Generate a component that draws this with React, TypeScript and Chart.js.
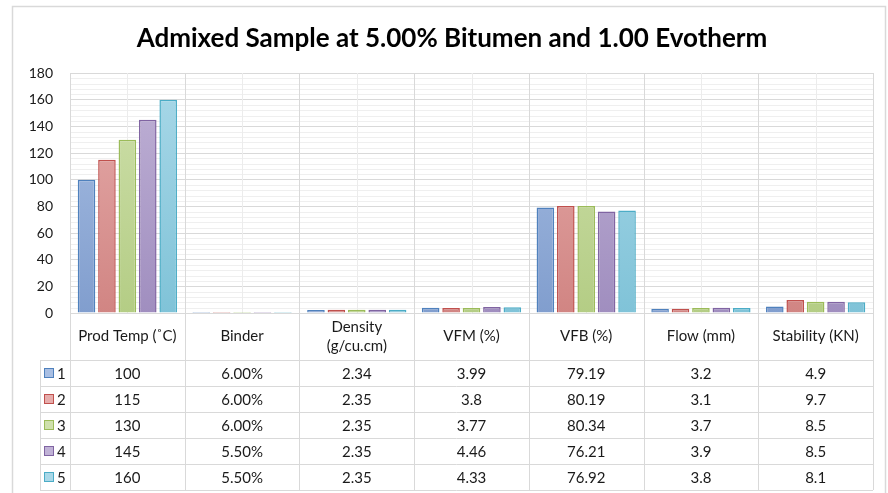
import React, { useEffect, useRef } from 'react';
import { Chart, registerables } from 'chart.js';

Chart.register(...registerables);

const titleText = 'Admixed Sample at 5.00% Bitumen and 1.00 Evotherm';
const categoryHeaders: string[][] = [
  ['Prod Temp (˚C)'],
  ['Binder'],
  ['Density', '(g/cu.cm)'],
  ['VFM (%)'],
  ['VFB (%)'],
  ['Flow (mm)'],
  ['Stability (KN)'],
];
const seriesNames = ['1', '2', '3', '4', '5'];
const series1 = [100, 0.06, 2.34, 3.99, 79.19, 3.2, 4.9];
const series2 = [115, 0.06, 2.35, 3.8, 80.19, 3.1, 9.7];
const series3 = [130, 0.06, 2.35, 3.77, 80.34, 3.7, 8.5];
const series4 = [145, 0.055, 2.35, 4.46, 76.21, 3.9, 8.5];
const series5 = [160, 0.055, 2.35, 4.33, 76.92, 3.8, 8.1];
const allSeries = [series1, series2, series3, series4, series5];
const yMax = 180;
const yStep = 20;
const yMinorStep = 4;

const fillTop = ['#A9BFE3', '#E6ADAC', '#CFE0AC', '#C0B2D6', '#A9D8E8'];
const fillBottom = ['#819ECE', '#D18583', '#B4CD85', '#A08EBF', '#80C3D8'];
const borderColors = ['#4F81BD', '#C0504D', '#9BBB59', '#8064A2', '#4BACC6'];

const FONT = 'Lato, "Open Sans", sans-serif';
const TEXT = '#1a1a1a';
const LINE = '#d9d9d9';

function fmt(ci: number, v: number): string {
  if (ci === 1) return (v * 100).toFixed(2) + '%';
  return String(v);
}

const extras = {
  id: 'extras',
  beforeDraw(chart: any) {
    const { ctx, width, height } = chart;
    ctx.save();
    ctx.fillStyle = '#ffffff';
    ctx.fillRect(0, 0, width, height);
    ctx.strokeStyle = LINE;
    ctx.lineWidth = 1.5;
    ctx.strokeRect(12.5, 6.5, 873, 520);
    ctx.restore();
  },
  beforeDatasetsDraw(chart: any) {
    const { ctx, chartArea } = chart;
    const y = chart.scales.y;
    const x = chart.scales.x;
    ctx.save();
    ctx.lineWidth = 1;
    ctx.strokeStyle = '#efefef';
    for (let v = yMinorStep; v < yMax; v += yMinorStep) {
      if (v % yStep === 0) continue;
      const py = Math.round(y.getPixelForValue(v)) + 0.5;
      ctx.beginPath();
      ctx.moveTo(chartArea.left, py);
      ctx.lineTo(chartArea.right, py);
      ctx.stroke();
    }
    const n = categoryHeaders.length;
    ctx.strokeStyle = '#ececec';
    for (let i = 0; i < n; i++) {
      const px = Math.round(x.getPixelForValue(i)) + 0.5;
      ctx.beginPath();
      ctx.moveTo(px, chartArea.top);
      ctx.lineTo(px, chartArea.bottom);
      ctx.stroke();
    }
    ctx.restore();
  },
  afterDraw(chart: any) {
    const { ctx, chartArea } = chart;
    const x = chart.scales.x;
    const n = categoryHeaders.length;
    const w = (chartArea.right - chartArea.left) / n;
    const tableTop = chartArea.bottom;
    const headerH = 47;
    const rowH = 26;
    const legendLeft = 40;
    const rowsTop = tableTop + headerH;
    const tableBottom = rowsTop + rowH * seriesNames.length;
    ctx.save();
    // title
    ctx.fillStyle = '#000000';
    ctx.font = 'bold 26px ' + FONT;
    ctx.textAlign = 'center';
    ctx.textBaseline = 'middle';
    ctx.fillText(titleText, 452, 39);

    // table lines
    ctx.strokeStyle = LINE;
    ctx.lineWidth = 1;
    for (let i = 0; i <= n; i++) {
      const bx = Math.round(chartArea.left + i * w) + 0.5;
      ctx.beginPath();
      ctx.moveTo(bx, chartArea.top);
      ctx.lineTo(bx, tableBottom);
      ctx.stroke();
    }
    ctx.beginPath();
    ctx.moveTo(legendLeft + 0.5, rowsTop);
    ctx.lineTo(legendLeft + 0.5, tableBottom);
    ctx.stroke();
    for (let r = 0; r <= seriesNames.length; r++) {
      const hy = Math.round(rowsTop + r * rowH) + 0.5;
      ctx.beginPath();
      ctx.moveTo(legendLeft, hy);
      ctx.lineTo(chartArea.right, hy);
      ctx.stroke();
    }

    // header text
    ctx.fillStyle = TEXT;
    ctx.font = '15px ' + FONT;
    ctx.textAlign = 'center';
    ctx.textBaseline = 'middle';
    for (let i = 0; i < n; i++) {
      const cx = x.getPixelForValue(i);
      const lines = categoryHeaders[i];
      const lh = 19;
      const cy = tableTop + headerH / 2 - ((lines.length - 1) * lh) / 2;
      lines.forEach((t, k) => ctx.fillText(t, cx, cy + k * lh));
    }
    // rows
    for (let r = 0; r < seriesNames.length; r++) {
      const cy = rowsTop + r * rowH + rowH / 2 + 1;
      ctx.fillStyle = fillTop[r];
      ctx.fillRect(44.5, cy - 5.5, 9, 9);
      ctx.strokeStyle = borderColors[r];
      ctx.lineWidth = 1;
      ctx.strokeRect(44.5, cy - 5.5, 9, 9);
      ctx.fillStyle = TEXT;
      ctx.textAlign = 'left';
      ctx.fillText(seriesNames[r], 57, cy);
      ctx.textAlign = 'center';
      for (let i = 0; i < n; i++) {
        ctx.fillText(fmt(i, allSeries[r][i]), x.getPixelForValue(i), cy);
      }
    }
    ctx.restore();
  },
};

export default function App() {
  const ref = useRef<HTMLCanvasElement | null>(null);
  useEffect(() => {
    const canvas = ref.current;
    if (!canvas) return;
    const gradient = (i: number) => (c: any) => {
      const area = c.chart.chartArea;
      if (!area) return fillTop[i];
      const g = c.chart.ctx.createLinearGradient(0, area.top, 0, area.bottom);
      g.addColorStop(0, fillTop[i]);
      g.addColorStop(1, fillBottom[i]);
      return g;
    };
    const chart = new Chart(canvas, {
      type: 'bar',
      data: {
        labels: categoryHeaders.map((h) => h.join(' ')),
        datasets: allSeries.map((s, i) => ({
          label: seriesNames[i],
          data: s,
          backgroundColor: gradient(i),
          borderColor: borderColors[i],
          borderWidth: 1.5,
          categoryPercentage: 0.89,
          barPercentage: 0.86,
        })),
      },
      options: {
        responsive: false,
        animation: false,
        layout: { padding: { top: 73, right: 15, bottom: 180, left: 0 } },
        plugins: {
          legend: { display: false },
          title: { display: false },
          tooltip: { enabled: false },
        },
        scales: {
          x: {
            grid: { display: false, drawTicks: false },
            border: { display: false },
            ticks: { display: false },
            afterFit: (s: any) => {
              s.height = 0;
            },
          },
          y: {
            min: 0,
            max: yMax,
            ticks: {
              stepSize: yStep,
              padding: 17,
              color: TEXT,
              font: { family: FONT, size: 14 },
            },
            grid: { color: LINE, drawTicks: false },
            border: { display: false },
            afterFit: (s: any) => {
              s.width = 70;
            },
          },
        },
      },
      plugins: [extras],
    });
    return () => chart.destroy();
  }, []);
  return (
    <div style={{ position: 'fixed', left: 0, top: 0, width: 888, height: 493, background: '#fff' }}>
      <canvas ref={ref} width={888} height={493} style={{ display: 'block', width: 888, height: 493 }} />
    </div>
  );
}
